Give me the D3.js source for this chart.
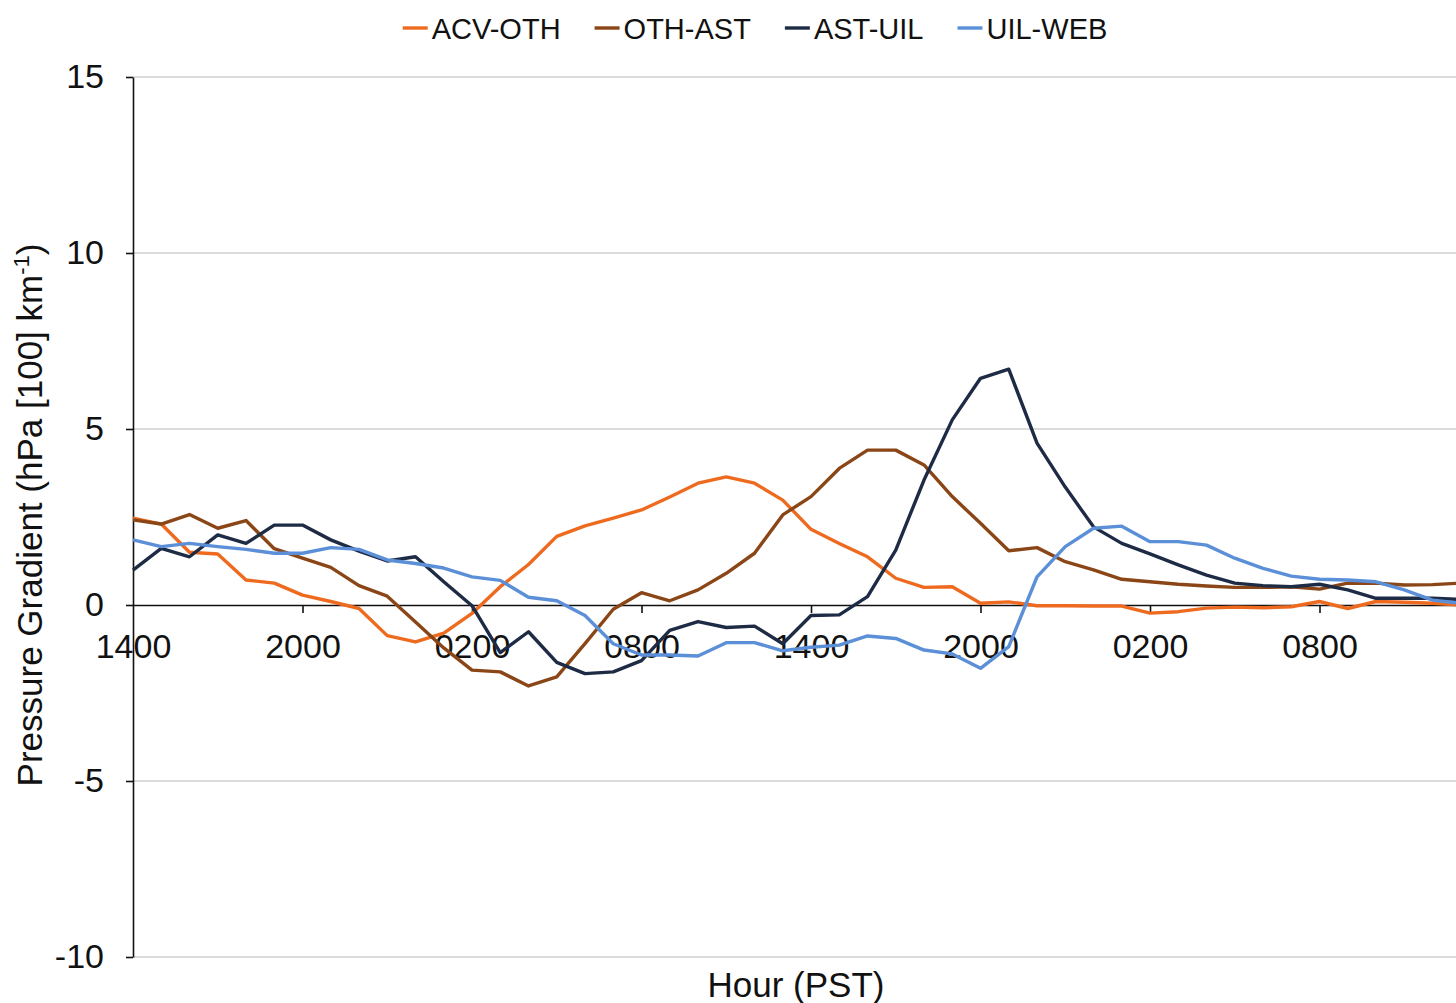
<!DOCTYPE html>
<html>
<head>
<meta charset="utf-8">
<script src="https://cdn.jsdelivr.net/npm/d3@7"></script>
<style>
  body { margin: 0; background: #fff; }
  svg { display: block; font-family: "Liberation Sans", Arial, sans-serif; }
  .axis text { font-size: 34px; fill: #111; }
  .axis path, .axis line { stroke: #111; stroke-width: 1.6; }
</style>
</head>
<body>
<div id="chart"></div>
<script>
(function(){
  'use strict';

  // data: hourly values, hour 0 = 1400 PST
  var seriesNames = ['ACV-OTH', 'OTH-AST', 'AST-UIL', 'UIL-WEB'];
  var seriesColors = ['#ee6a1f', '#8a4616', '#1d2b45', '#5b8fd8'];

  var acvOth = [2.47, 2.3, 1.5, 1.45, 0.71, 0.62, 0.28, 0.1, -0.1, -0.87, -1.05, -0.8,
                -0.24, 0.52, 1.15, 1.95, 2.25, 2.47, 2.7, 3.07, 3.46, 3.64, 3.46, 2.98,
                2.15, 1.75, 1.37, 0.76, 0.5, 0.52, 0.05, 0.09, -0.02, -0.02, -0.03, -0.03,
                -0.23, -0.19, -0.09, -0.06, -0.08, -0.05, 0.1, -0.1, 0.1, 0.08, 0.05, 0.0];

  var othAst = [2.42, 2.3, 2.57, 2.18, 2.4, 1.6, 1.33, 1.07, 0.55, 0.25, -0.48, -1.22,
                -1.85, -1.9, -2.3, -2.04, -1.1, -0.12, 0.35, 0.12, 0.43, 0.9, 1.47, 2.56,
                3.08, 3.88, 4.4, 4.4, 3.98, 3.08, 2.32, 1.54, 1.63, 1.23, 1.0, 0.73,
                0.66, 0.59, 0.54, 0.5, 0.5, 0.52, 0.45, 0.62, 0.62, 0.57, 0.58, 0.62];

  var astUil = [0.99, 1.61, 1.37, 1.99, 1.75, 2.27, 2.27, 1.85, 1.53, 1.25, 1.37, 0.66,
                -0.02, -1.35, -0.76, -1.63, -1.95, -1.9, -1.58, -0.72, -0.47, -0.64, -0.6, -1.1,
                -0.3, -0.28, 0.24, 1.56, 3.55, 5.26, 6.44, 6.7, 4.6, 3.35, 2.22, 1.75,
                1.45, 1.14, 0.85, 0.62, 0.55, 0.52, 0.59, 0.43, 0.19, 0.19, 0.19, 0.16];

  var uilWeb = [1.85, 1.66, 1.75, 1.66, 1.58, 1.47, 1.47, 1.63, 1.58, 1.28, 1.18, 1.05,
                0.8, 0.7, 0.22, 0.12, -0.3, -1.1, -1.42, -1.42, -1.45, -1.07, -1.07, -1.3,
                -1.2, -1.14, -0.88, -0.95, -1.28, -1.39, -1.8, -1.18, 0.8, 1.66, 2.18, 2.24,
                1.8, 1.8, 1.7, 1.33, 1.04, 0.82, 0.73, 0.71, 0.66, 0.43, 0.14, 0.05];

  var allSeries = [acvOth, othAst, astUil, uilWeb];

  var tickHours = [0, 6, 12, 18, 24, 30, 36, 42];
  var tickLabels = ['1400', '2000', '0200', '0800', '1400', '2000', '0200', '0800'];
  var yTicks = [-10, -5, 0, 5, 10, 15];
  var gridValues = [-10, -5, 5, 10, 15];

  var W = 1456, H = 1003;

  var svg = d3.select('#chart').append('svg')
    .attr('width', W)
    .attr('height', H);

  var x = d3.scaleLinear()
    .domain([0, 48])
    .range([133, 133 + 48 * 28.25]);

  var y = d3.scaleLinear()
    .domain([-10, 15])
    .range([957, 77]);

  // grid lines
  svg.selectAll('.grid')
    .data(gridValues)
    .enter()
    .append('line')
    .attr('class', 'grid')
    .attr('x1', x(0))
    .attr('x2', W)
    .attr('y1', function(d) { return y(d); })
    .attr('y2', function(d) { return y(d); })
    .style('stroke', '#cfcfcf')
    .style('stroke-width', 1.6);

  // y axis
  var yAxis = d3.axisLeft(y)
    .tickValues(yTicks)
    .tickSize(7)
    .tickSizeOuter(0)
    .tickPadding(22)
    .tickFormat(function(d) { return d; });

  svg.append('g')
    .attr('class', 'axis')
    .attr('transform', 'translate(' + x(0) + ',0)')
    .call(yAxis);

  // x axis on zero line
  var xAxis = d3.axisBottom(x)
    .tickValues(tickHours)
    .tickSize(8)
    .tickSizeOuter(0)
    .tickPadding(21)
    .tickFormat(function(d, i) { return tickLabels[i]; });

  var gx = svg.append('g')
    .attr('class', 'axis')
    .attr('transform', 'translate(0,' + y(0) + ')')
    .call(xAxis);
  gx.selectAll('.tick').filter(function(d) { return d === 0; }).select('line').remove();

  // series lines
  var line = d3.line()
    .x(function(d, i) { return x(i); })
    .y(function(d) { return y(d); });

  svg.selectAll('.series')
    .data(allSeries)
    .enter()
    .append('path')
    .attr('class', 'series')
    .attr('d', line)
    .style('fill', 'none')
    .style('stroke', function(d, i) { return seriesColors[i]; })
    .style('stroke-width', 3.4)
    .style('stroke-linejoin', 'round');

  // legend
  var legend = svg.append('g').attr('class', 'legend');
  var items = legend.selectAll('g')
    .data(seriesNames)
    .enter()
    .append('g');

  items.append('line')
    .attr('x1', 0).attr('x2', 25)
    .attr('y1', 28).attr('y2', 28)
    .style('stroke', function(d, i) { return seriesColors[i]; })
    .style('stroke-width', 3.4);

  items.append('text')
    .attr('x', 29)
    .attr('y', 39)
    .style('font-size', '29px')
    .style('fill', '#111')
    .text(function(d) { return d; });

  var offset = 0, widths = [];
  items.each(function(d, i) {
    var w = 29 + d3.select(this).select('text').node().getComputedTextLength();
    widths.push(w);
  });
  var gap = 34;
  var total = d3.sum(widths) + gap * (widths.length - 1);
  var start = 755 - total / 2;
  items.attr('transform', function(d, i) {
    var tx = start + offset;
    offset += widths[i] + gap;
    return 'translate(' + tx + ',0)';
  });

  // axis titles
  svg.append('text')
    .attr('x', 796)
    .attr('y', 997)
    .attr('text-anchor', 'middle')
    .style('font-size', '35px')
    .style('fill', '#111')
    .text('Hour (PST)');

  var yl = svg.append('text')
    .attr('transform', 'translate(42,515) rotate(-90)')
    .attr('text-anchor', 'middle')
    .style('font-size', '35px')
    .style('fill', '#111');
  yl.append('tspan').text('Pressure Gradient (hPa [100] km');
  yl.append('tspan').attr('dy', -13).style('font-size', '22px').text('-1');
  yl.append('tspan').attr('dy', 13).text(')');

}());
</script>
</body>
</html>
